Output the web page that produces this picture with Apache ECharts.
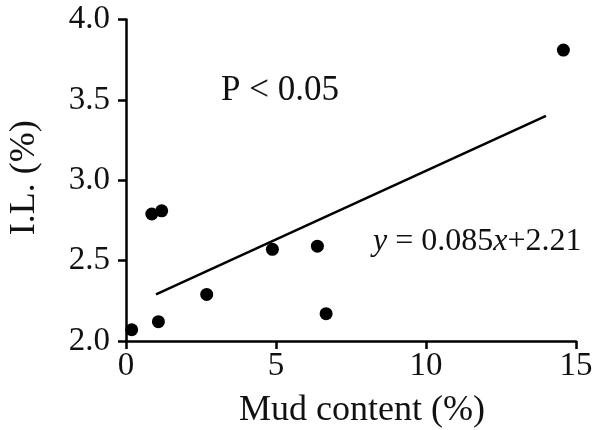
<!DOCTYPE html>
<html>
<head>
<meta charset="utf-8">
<script src="https://cdn.jsdelivr.net/npm/echarts@6/dist/echarts.min.js"></script>
<style>html,body{margin:0;padding:0;background:#fff}#c{width:592px;height:430px}</style>
</head>
<body>
<div id="c"></div>
<script>
// Data
const mudContent = [0.19, 1.08, 0.86, 1.19, 2.69, 4.88, 6.38, 6.67, 14.58];
const ilValues   = [2.07, 2.12, 2.79, 2.81, 2.29, 2.57, 2.59, 2.17, 3.81];
const fitX = [1.0, 14.0];
const fitY = [2.29, 3.40];
const xTicks = [0, 5, 10, 15];
const yTicks = ['2.0', '2.5', '3.0', '3.5', '4.0'];
const xTitle = 'Mud content (%)';
const yTitle = 'I.L. (%)';
const pText = 'P < 0.05';

const FONT = '"Liberation Serif", "Times New Roman", serif';
const chart = echarts.init(document.getElementById('c'), null, {renderer: 'canvas'});
const points = mudContent.map((x, i) => [x, ilValues[i]]);
const fitLine = fitX.map((x, i) => [x, fitY[i]]);

chart.setOption({
  animation: false,
  backgroundColor: '#fff',
  grid: {left: 126, right: 16, top: 19.5, bottom: 89, containLabel: false, outerBoundsMode: 'none'},
  xAxis: {
    type: 'value', min: 0, max: 15, interval: 5,
    axisLine: {show: true, onZero: false, lineStyle: {color: '#000', width: 2.5}},
    axisTick: {show: true, length: 8, lineStyle: {color: '#000', width: 2.5}},
    splitLine: {show: false},
    axisLabel: {color: '#111', fontFamily: FONT, fontSize: 33, margin: 9,
      formatter: v => xTicks.indexOf(v) >= 0 ? String(v) : ''},
    name: xTitle, nameLocation: 'middle', nameGap: 52,
    nameTextStyle: {color: '#111', fontFamily: FONT, fontSize: 36, padding: [0, 0, 0, 22]}
  },
  yAxis: {
    type: 'value', min: 2, max: 4, interval: 0.5,
    axisLine: {show: true, onZero: false, lineStyle: {color: '#000', width: 2.5}},
    axisTick: {show: true, length: 8, lineStyle: {color: '#000', width: 2.5}},
    splitLine: {show: false},
    axisLabel: {color: '#111', fontFamily: FONT, fontSize: 33, margin: 16,
      formatter: v => yTicks[Math.round((v - 2) / 0.5)]},
    name: yTitle, nameLocation: 'middle', nameGap: 83, nameRotate: 90,
    nameTextStyle: {color: '#111', fontFamily: FONT, fontSize: 36, padding: [0, 0, 0, 5]}
  },
  series: [
    {type: 'scatter', data: points, symbol: 'circle', symbolSize: 13,
     itemStyle: {color: '#000', opacity: 1}, z: 3},
    {type: 'line', data: fitLine, symbol: 'none',
     lineStyle: {color: '#000', width: 2.5}, z: 2}
  ],
  graphic: [
    {type: 'text', left: 221, top: 73,
     style: {text: pText, font: '35px ' + FONT, fill: '#111'}},
    {type: 'text', left: 373, top: 226,
     style: {text: '{i|y} = 0.085{i|x}+2.21', font: '32px ' + FONT, fill: '#111',
       rich: {i: {fontStyle: 'italic', fontFamily: FONT, fontSize: 32, fill: '#111'}}}}
  ]
});
</script>
</body>
</html>
